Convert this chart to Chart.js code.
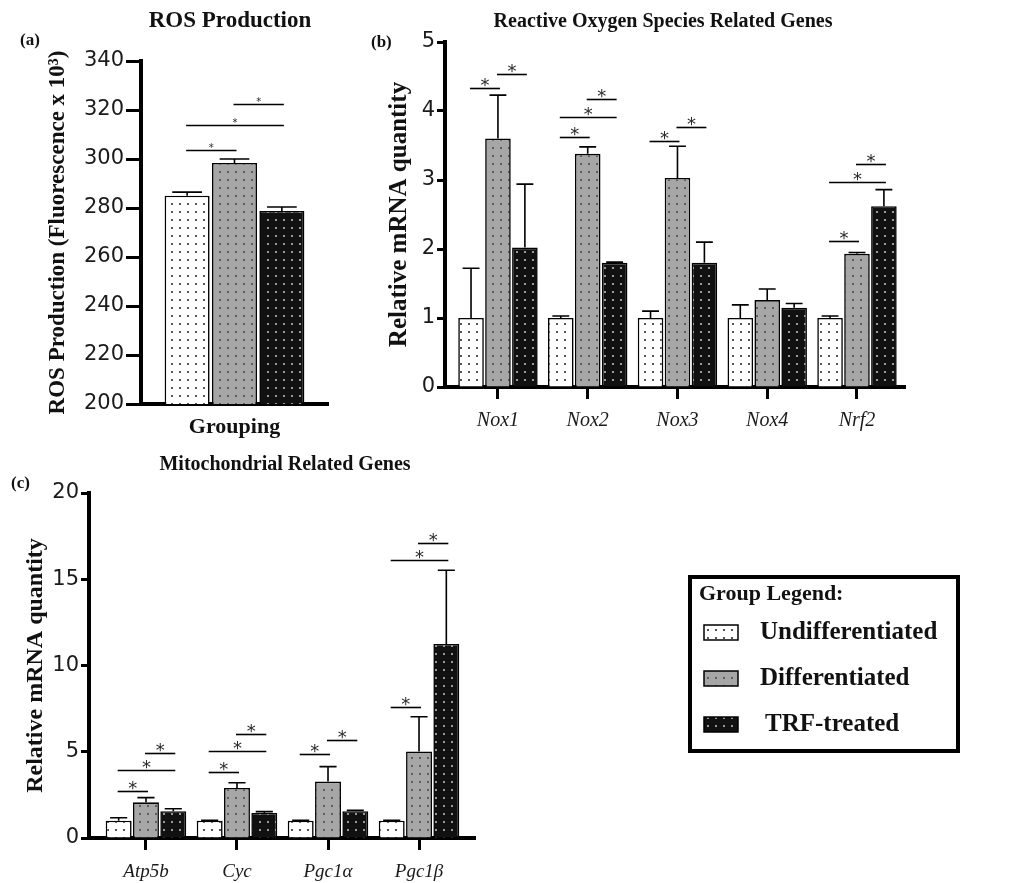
<!DOCTYPE html>
<html>
<head>
<meta charset="utf-8">
<script src="https://cdn.jsdelivr.net/npm/chart.js@4.4.0/dist/chart.umd.min.js"></script>
<style>
body{margin:0;background:#fff;width:1022px;height:883px;position:relative;overflow:hidden}
canvas{position:absolute}
#cA{left:0;top:0}
#cB{left:345px;top:0}
#cC{left:0;top:450px}
</style>
</head>
<body>
<canvas id="cA" width="345" height="450"></canvas>
<canvas id="cB" width="677" height="450"></canvas>
<canvas id="cC" width="1022" height="433"></canvas>
<script>
// ----------------- Data -----------------
const groups = ["Undifferentiated", "Differentiated", "TRF-treated"];

// (a) ROS production
const rosValues = [285, 298.4, 278.8];
const rosErrors = [1.5, 1.6, 1.6];
const rosBrackets = [[0, 1, 303.7], [0, 2, 313.9], [1, 2, 322.4]];

// (b) reactive oxygen species genes
const rosGenes = ["Nox1", "Nox2", "Nox3", "Nox4", "Nrf2"];
const rosUndiff = [1.0, 1.0, 1.0, 1.0, 1.0];
const rosDiff = [3.6, 3.38, 3.03, 1.26, 1.93];
const rosTrf = [2.02, 1.8, 1.8, 1.15, 2.62];
const rosUndiffErr = [0.72, 0.03, 0.1, 0.19, 0.03];
const rosDiffErr = [0.63, 0.1, 0.46, 0.16, 0.02];
const rosTrfErr = [0.92, 0.01, 0.3, 0.06, 0.24];
// [gene, from group, to group, height]
const rosGeneBrackets = [
  [0, 0, 1, 4.33], [0, 1, 2, 4.54],
  [1, 0, 1, 3.62], [1, 0, 2, 3.91], [1, 1, 2, 4.17],
  [2, 0, 1, 3.57], [2, 1, 2, 3.77],
  [4, 0, 1, 2.12], [4, 0, 2, 2.97], [4, 1, 2, 3.23]
];

// (c) mitochondrial genes
const mitoGenes = ["Atp5b", "Cyc", "Pgc1\u03b1", "Pgc1\u03b2"];
const mitoUndiff = [1.0, 1.0, 1.0, 1.0];
const mitoDiff = [2.07, 2.9, 3.27, 5.02];
const mitoTrf = [1.55, 1.45, 1.55, 11.25];
const mitoUndiffErr = [0.17, 0.02, 0.02, 0.02];
const mitoDiffErr = [0.27, 0.3, 0.87, 2.01];
const mitoTrfErr = [0.15, 0.08, 0.05, 4.27];
const mitoBrackets = [
  [0, 0, 1, 2.7], [0, 0, 2, 3.92], [0, 1, 2, 4.9],
  [1, 0, 1, 3.83], [1, 0, 2, 5.02], [1, 1, 2, 6.01],
  [2, 0, 1, 4.85], [2, 1, 2, 5.66],
  [3, 0, 1, 7.59], [3, 0, 2, 16.1], [3, 1, 2, 17.1]
];

// ----------------- Styling -----------------
const SERIF = "'Liberation Serif', 'Times New Roman', serif";
const SANS = "'DejaVu Sans', sans-serif";
Chart.defaults.font.family = SANS;
Chart.defaults.color = "#1a1a1a";

function dots(bg, dot){
  const c = document.createElement("canvas");
  c.width = 8; c.height = 8;
  const x = c.getContext("2d");
  x.fillStyle = bg; x.fillRect(0, 0, 8, 8);
  x.fillStyle = dot; x.fillRect(3, 3, 2, 2);
  return x.createPattern(c, "repeat");
}
const fills = [dots("#ffffff", "#555555"), dots("#a6a6a6", "#5c5c5c"), dots("#111111", "#9a9a9a")];

// ----------------- Plugin: error bars, brackets, texts, legend -----------------
const extras = {
  id: "extras",
  afterDatasetsDraw(chart, args, opts){
    const ctx = chart.ctx, y = chart.scales.y;
    ctx.save();
    ctx.strokeStyle = "#000";
    ctx.lineWidth = 1.6;
    (opts.errors || []).forEach((errs, d) => {
      chart.getDatasetMeta(d).data.forEach((bar, i) => {
        const raw = chart.data.datasets[d].data[i];
        const val = typeof raw === "object" ? raw.y : raw;
        const top = y.getPixelForValue(val + errs[i]);
        const w = bar.width * 0.33;
        ctx.beginPath();
        ctx.moveTo(bar.x, bar.y); ctx.lineTo(bar.x, top);
        ctx.moveTo(bar.x - w, top); ctx.lineTo(bar.x + w, top);
        ctx.stroke();
      });
    });
    ctx.font = opts.starFont;
    ctx.textAlign = "center";
    ctx.textBaseline = "alphabetic";
    ctx.fillStyle = "#2a2a2a";
    (opts.brackets || []).forEach(b => {
      const [i, g1, g2, val] = b;
      const x1 = chart.getDatasetMeta(g1).data[i].x - 1;
      const x2 = chart.getDatasetMeta(g2).data[i].x + 2;
      const py = Math.round(y.getPixelForValue(val)) + 0.5;
      ctx.beginPath(); ctx.moveTo(x1, py); ctx.lineTo(x2, py); ctx.stroke();
      ctx.fillText("*", (x1 + x2) / 2, py + opts.starDy);
    });
    ctx.restore();
  },
  afterDraw(chart, args, opts){
    const ctx = chart.ctx;
    ctx.save();
    ctx.fillStyle = "#111";
    ctx.textBaseline = "middle";
    (opts.texts || []).forEach(t => {
      ctx.font = t.font;
      ctx.textAlign = t.align || "center";
      ctx.fillText(t.text, t.x, t.y);
    });
    const lg = opts.legend;
    if(lg){
      ctx.strokeStyle = "#000";
      ctx.lineWidth = 4;
      ctx.strokeRect(lg.x, lg.y, lg.w, lg.h);
      ctx.font = "bold 22px " + SERIF;
      ctx.textAlign = "left";
      ctx.fillText("Group Legend:", lg.x + 9, lg.y + 17);
      groups.forEach((g, i) => {
        const sy = lg.y + 48 + i * 46;
        ctx.fillStyle = fills[i];
        ctx.fillRect(lg.x + 14, sy, 34, 15);
        ctx.lineWidth = 1.5;
        ctx.strokeRect(lg.x + 14, sy, 34, 15);
        ctx.fillStyle = "#111";
        ctx.font = "bold 25px " + SERIF;
        ctx.fillText(g, lg.x + 70 + (i === 2 ? 5 : 0), sy + 8);
      });
    }
    ctx.restore();
  }
};

function barSet(values, g){
  return {
    label: groups[g],
    data: values,
    backgroundColor: fills[g],
    borderColor: "#000",
    borderWidth: 1.6
  };
}
function pts(values){
  return values.map((v, i) => ({x: i + 1, y: v}));
}
function yTitle(text, size, pad){
  return {display: true, text: text, font: {family: SERIF, size: size, weight: "bold"}, color: "#111", padding: {top: pad, bottom: 0}};
}
function axisGrid(len){
  return {display: true, drawOnChartArea: false, drawTicks: true, tickLength: len, tickWidth: 3, tickColor: "#000", offset: false};
}
const border = {display: true, color: "#000", width: 4};

// ----------------- (a) ROS Production -----------------
new Chart(document.getElementById("cA"), {
  type: "bar",
  data: {
    labels: [""],
    datasets: rosValues.map((v, g) => barSet([v], g))
  },
  options: {
    responsive: false, animation: false, devicePixelRatio: 1,
    layout: {padding: {left: 0, right: 17, top: 61, bottom: 0}},
    datasets: {bar: {categoryPercentage: 0.76, barPercentage: 0.95}},
    scales: {
      x: {
        grid: {display: false}, border: border,
        ticks: {display: false},
        title: {display: true, text: "Grouping", font: {family: SERIF, size: 22, weight: "bold"}, color: "#111", padding: {top: 0, bottom: 9}},
        afterFit: s => { s.height = 46; }
      },
      y: {
        min: 200, max: 340,
        grid: axisGrid(15), border: border,
        ticks: {stepSize: 20, padding: 2, font: {size: 21}},
        title: yTitle("ROS Production (Fluorescence x 10\u00b3)", 23, 44),
        afterFit: s => { s.width = 141; }
      }
    },
    plugins: {
      legend: {display: false}, tooltip: {enabled: false},
      extras: {
        errors: rosErrors.map(e => [e]),
        brackets: rosBrackets.map(b => [0, b[0], b[1], b[2]]),
        starFont: "10px " + SANS, starDy: 0,
        texts: [
          {text: "ROS Production", x: 230, y: 21, font: "bold 23px " + SERIF},
          {text: "(a)", x: 20, y: 41, align: "left", font: "bold 17px " + SERIF}
        ]
      }
    }
  },
  plugins: [extras]
});

// ----------------- (b) Reactive Oxygen Species Related Genes -----------------
new Chart(document.getElementById("cB"), {
  type: "bar",
  data: {
    datasets: [barSet(pts(rosUndiff), 0), barSet(pts(rosDiff), 1), barSet(pts(rosTrf), 2)]
  },
  options: {
    responsive: false, animation: false, devicePixelRatio: 1,
    layout: {padding: {left: 0, right: 117, top: 42, bottom: 0}},
    datasets: {bar: {categoryPercentage: 0.9, barPercentage: 0.95}},
    scales: {
      x: {
        type: "linear", min: 0.41, max: 5.535, offset: false,
        grid: axisGrid(12), border: border,
        afterBuildTicks: s => { s.ticks = rosGenes.map((c, i) => ({value: i + 1})); },
        ticks: {autoSkip: false, maxRotation: 0, padding: 10, callback: v => rosGenes[v - 1],
          font: {family: SERIF, size: 20, style: "italic"}},
        afterFit: s => { s.height = 63; }
      },
      y: {
        min: 0, max: 5,
        grid: axisGrid(8), border: border,
        ticks: {stepSize: 1, padding: 2, font: {size: 21}},
        title: yTitle("Relative mRNA quantity", 25, 40),
        afterFit: s => { s.width = 100; }
      }
    },
    plugins: {
      legend: {display: false}, tooltip: {enabled: false},
      extras: {
        errors: [rosUndiffErr, rosDiffErr, rosTrfErr],
        brackets: rosGeneBrackets,
        starFont: "18px " + SANS, starDy: 2,
        texts: [
          {text: "Reactive Oxygen Species Related Genes", x: 318, y: 22, font: "bold 20px " + SERIF},
          {text: "(b)", x: 26, y: 43, align: "left", font: "bold 17px " + SERIF}
        ]
      }
    }
  },
  plugins: [extras]
});

// ----------------- (c) Mitochondrial Related Genes -----------------
new Chart(document.getElementById("cC"), {
  type: "bar",
  data: {
    datasets: [barSet(pts(mitoUndiff), 0), barSet(pts(mitoDiff), 1), barSet(pts(mitoTrf), 2)]
  },
  options: {
    responsive: false, animation: false, devicePixelRatio: 1,
    layout: {padding: {left: 0, right: 547, top: 43, bottom: 0}},
    datasets: {bar: {categoryPercentage: 0.9, barPercentage: 0.95}},
    scales: {
      x: {
        type: "linear", min: 0.374, max: 4.615, offset: false,
        grid: axisGrid(12), border: border,
        afterBuildTicks: s => { s.ticks = mitoGenes.map((c, i) => ({value: i + 1})); },
        ticks: {autoSkip: false, maxRotation: 0, padding: 11, callback: v => mitoGenes[v - 1],
          font: {family: SERIF, size: 19, style: "italic"}},
        afterFit: s => { s.height = 45; }
      },
      y: {
        min: 0, max: 20,
        grid: axisGrid(8), border: border,
        ticks: {stepSize: 5, padding: 2, font: {size: 21}},
        title: yTitle("Relative mRNA quantity", 24, 21),
        afterFit: s => { s.width = 89; }
      }
    },
    plugins: {
      legend: {display: false}, tooltip: {enabled: false},
      extras: {
        errors: [mitoUndiffErr, mitoDiffErr, mitoTrfErr],
        brackets: mitoBrackets,
        starFont: "18px " + SANS, starDy: 2,
        texts: [
          {text: "Mitochondrial Related Genes", x: 285, y: 15, font: "bold 20px " + SERIF},
          {text: "(c)", x: 11, y: 34, align: "left", font: "bold 17px " + SERIF}
        ],
        legend: {x: 690, y: 127, w: 268, h: 174}
      }
    }
  },
  plugins: [extras]
});
</script>
</body>
</html>
